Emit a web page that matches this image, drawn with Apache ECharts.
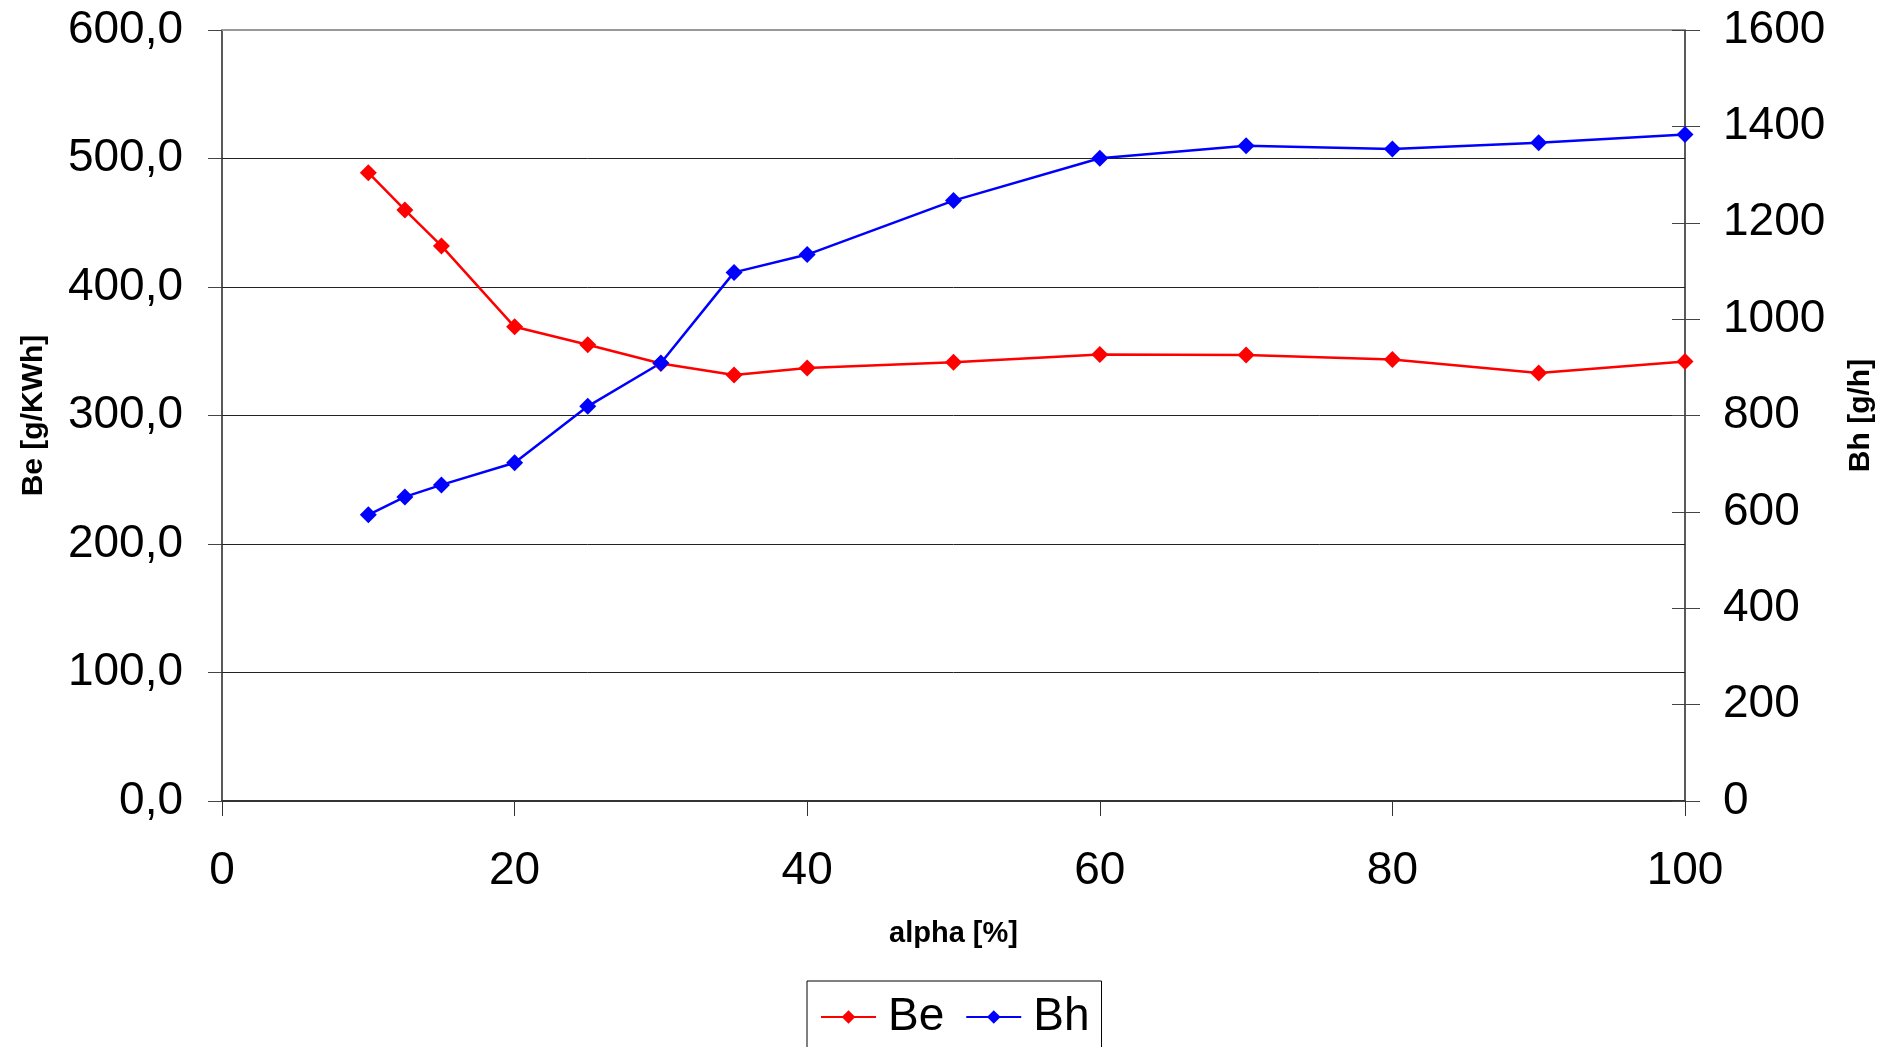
<!DOCTYPE html>
<html>
<head>
<meta charset="utf-8">
<script src="https://cdn.jsdelivr.net/npm/echarts@6/dist/echarts.min.js"></script>
<style>
html,body{margin:0;padding:0;background:#fff;}
#chart{width:1892px;height:1047px;}
</style>
</head>
<body>
<div id="chart"></div>
<script>
const alpha = [10, 12.5, 15, 20, 25, 30, 35, 40, 50, 60, 70, 80, 90, 100];
const beValues = [489, 460, 432, 369, 355, 340.5, 331.5, 337, 341.5, 347.5, 347, 343.5, 333, 342];
const bhValues = [594, 631, 656, 702, 819, 909, 1097, 1134, 1246, 1334, 1360, 1353, 1366, 1383];
const xTicks = [0, 20, 40, 60, 80, 100];
const beTicks = [0, 100, 200, 300, 400, 500, 600];
const bhTicks = [0, 200, 400, 600, 800, 1000, 1200, 1400, 1600];

const FONT = '"Liberation Sans", Arial, Helvetica, sans-serif';
const chart = echarts.init(document.getElementById('chart'));

function pairs(xs, ys){ return xs.map((x,i)=>[x, ys[i]]); }

const gridPos = { left: 222, right: 207, top: 30, bottom: 246, containLabel: false };

chart.setOption({
  animation: false,
  backgroundColor: '#ffffff',
  textStyle: { fontFamily: FONT, color: '#000' },
  grid: [Object.assign({}, gridPos), Object.assign({}, gridPos)],
  legend: {
    left: 807, top: 981,
    orient: 'horizontal',
    data: ['Be', 'Bh'],
    itemWidth: 55, itemHeight: 17, itemGap: 21,
    padding: [11, 12, 7, 13],
    borderColor: '#000', borderWidth: 1,
    textStyle: { fontFamily: FONT, fontSize: 46, color: '#000', padding: [0, 0, 0, 7], lineHeight: 50 }
  },
  xAxis: [{
    gridIndex: 0,
    type: 'value', min: xTicks[0], max: xTicks[xTicks.length-1], interval: 20,
    position: 'bottom',
    name: 'alpha [%]', nameLocation: 'middle', nameGap: 118,
    nameTextStyle: { fontFamily: FONT, fontSize: 29, fontWeight: 'bold', color: '#000' },
    axisLine: { show: true, onZero: false, lineStyle: { color: '#333', width: 2 } },
    axisTick: { show: true, inside: false, length: 15, lineStyle: { color: '#333', width: 1 } },
    axisLabel: { fontFamily: FONT, fontSize: 46, color: '#000', margin: 47 },
    splitLine: { show: false }
  }, {
    gridIndex: 0,
    type: 'value', min: 0, max: 100, position: 'top',
    axisLine: { show: true, onZero: false, lineStyle: { color: '#999', width: 2 } },
    axisTick: { show: false }, axisLabel: { show: false }, splitLine: { show: false }
  }, {
    gridIndex: 1,
    type: 'value', min: 0, max: 100, position: 'bottom',
    axisLine: { show: false, onZero: false }, axisTick: { show: false },
    axisLabel: { show: false }, splitLine: { show: false }
  }],
  yAxis: [{
    gridIndex: 0,
    type: 'value', min: beTicks[0], max: beTicks[beTicks.length-1], interval: 100,
    position: 'left',
    name: 'Be [g/KWh]', nameLocation: 'middle', nameGap: 173, nameRotate: 90,
    nameTextStyle: { fontFamily: FONT, fontSize: 30, fontWeight: 'bold', color: '#000' },
    axisLine: { show: true, onZero: false, lineStyle: { color: '#222', width: 1.5 } },
    axisTick: { show: true, inside: false, length: 14, lineStyle: { color: '#444', width: 1 } },
    axisLabel: { fontFamily: FONT, fontSize: 46, color: '#000', margin: 39,
      formatter: v => v.toFixed(1).replace('.', ',') },
    splitLine: { show: true, lineStyle: { color: '#222', width: 1 } }
  }, {
    gridIndex: 0,
    type: 'value', min: bhTicks[0], max: bhTicks[bhTicks.length-1], interval: 200,
    position: 'right',
    name: 'Bh [g/h]', nameLocation: 'middle', nameGap: 161, nameRotate: 90,
    nameTextStyle: { fontFamily: FONT, fontSize: 30, fontWeight: 'bold', color: '#000' },
    axisLine: { show: true, onZero: false, lineStyle: { color: '#222', width: 1.5 } },
    axisTick: { show: true, inside: false, length: 15, lineStyle: { color: '#444', width: 1 } },
    axisLabel: { fontFamily: FONT, fontSize: 46, color: '#000', margin: 38,
      formatter: v => String(v) },
    splitLine: { show: false }
  }, {
    gridIndex: 1,
    type: 'value', min: bhTicks[0], max: bhTicks[bhTicks.length-1], interval: 200,
    position: 'right',
    axisLine: { show: false, onZero: false },
    axisTick: { show: true, inside: true, length: 13, lineStyle: { color: '#444', width: 1 } },
    axisLabel: { show: false },
    splitLine: { show: false }
  }],
  series: [{
    name: 'Be', type: 'line', xAxisIndex: 0, yAxisIndex: 0,
    data: pairs(alpha, beValues),
    symbol: 'diamond', symbolSize: 17,
    lineStyle: { color: '#ff0000', width: 2.5 },
    itemStyle: { color: '#ff0000' }
  }, {
    name: 'Bh', type: 'line', xAxisIndex: 0, yAxisIndex: 1,
    data: pairs(alpha, bhValues),
    symbol: 'diamond', symbolSize: 17,
    lineStyle: { color: '#0000ff', width: 2.5 },
    itemStyle: { color: '#0000ff' }
  }]
});
</script>
</body>
</html>
